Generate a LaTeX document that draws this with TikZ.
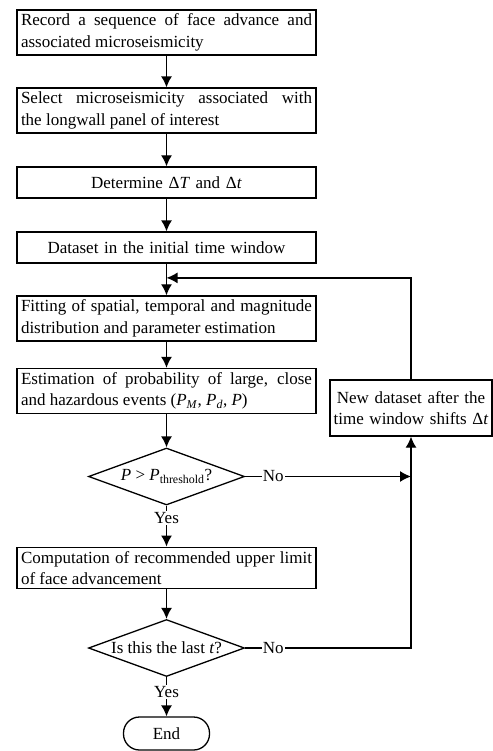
\documentclass[tikz,border=0pt]{standalone}
\usepackage{fontspec}
\setmainfont{Liberation Serif}
\usetikzlibrary{arrows.meta,shapes.geometric}
\hyphenpenalty=10000
\tolerance=9999
\hbadness=10000
\newcommand{\squeeze}[1]{\makebox[80pt]{#1}}

\begin{document}
\begin{tikzpicture}[x=1pt, y=1pt, line width=1.3pt,
	every node/.style={font=\fontsize{17}{21.5}\selectfont},
	box/.style={draw, rectangle, text width=291pt, inner xsep=4pt, inner ysep=4pt, minimum height=31pt, align=justify},
	onebox/.style={box, align=center},
	query/.style={draw, diamond, aspect=2.7, inner sep=0pt, minimum width=156pt, minimum height=57pt},
	stop/.style={draw, rectangle, rounded corners=16pt, minimum width=86pt, minimum height=33pt},
	answer/.style={fill=white, inner sep=1pt},
	flow/.style={-{Latex[length=11pt, width=11pt]}}]
	\useasboundingbox (0,0) rectangle (492,-751);
	\node[box] (record) at (166.5,-32.5) {Record a sequence of face advance and associated microseismicity};
	\node[box] (select) [node distance = 78pt] [below of = record] {Select microseismicity associated with\linebreak the longwall panel of interest};
	\node[onebox] (determine) [node distance = 72pt] [below of = select] {Determine Δ\textit{T} and Δ\textit{t}};
	\node[onebox] (initial) [node distance = 65pt] [below of = determine] {Dataset in the initial time window};
	\node[box] (fitting) [node distance = 71pt] [below of = initial] {Fitting of spatial, temporal and magnitude distribution and parameter estimation};
	\node[box] (estimate) [node distance = 72.5pt] [below of = fitting] {Estimation of probability of large, close and hazardous events (\textit{P}\textsubscript{\textit{M}}, \textit{P}\textsubscript{\textit{d}}, \textit{P})};
	\node[query] (check) [node distance = 85.5pt] [below of = estimate] {\squeeze{\textit{P} > \textit{P}\textsubscript{threshold}?}};
	\node[box] (compute) [node distance = 91.5pt] [below of = check] {Computation of recommended upper limit of face advancement};
	\node[query] (last) [node distance = 80pt] [below of = compute] {\squeeze{Is this the last \textit{t}?}};
	\node[stop] (end) [node distance = 85.5pt] [below of = last] {End};
	\node[draw, text width=156pt, inner xsep=3pt, minimum height=56pt, align=center] (shift) at (411,-408) {New dataset after the\\ time window shifts Δ\textit{t}};
	\path (initial.south) -- coordinate[pos=0.45] (join) (fitting.north);
	\path[flow] (record) edge (select);
	\path[flow] (select) edge (determine);
	\path[flow] (determine) edge (initial);
	\path[flow] (initial) edge (fitting);
	\path[flow] (fitting) edge (estimate);
	\path[flow] (estimate) edge (check);
	\path[flow] (check) edge node[answer, pos=0.3] {Yes} (compute);
	\path[flow] (compute) edge (last);
	\path[flow] (last) edge node[answer, pos=0.38] {Yes} (end);
	\draw[flow] (check.east) -- node[answer, pos=0.17] {No} (check.east -| shift.south);
	\draw[flow] (last.east) -- node[answer, pos=0.17] {No} (last.east -| shift.south) -- (shift.south);
	\draw[flow] (shift.north) |- (join);
\end{tikzpicture}
\end{document}
